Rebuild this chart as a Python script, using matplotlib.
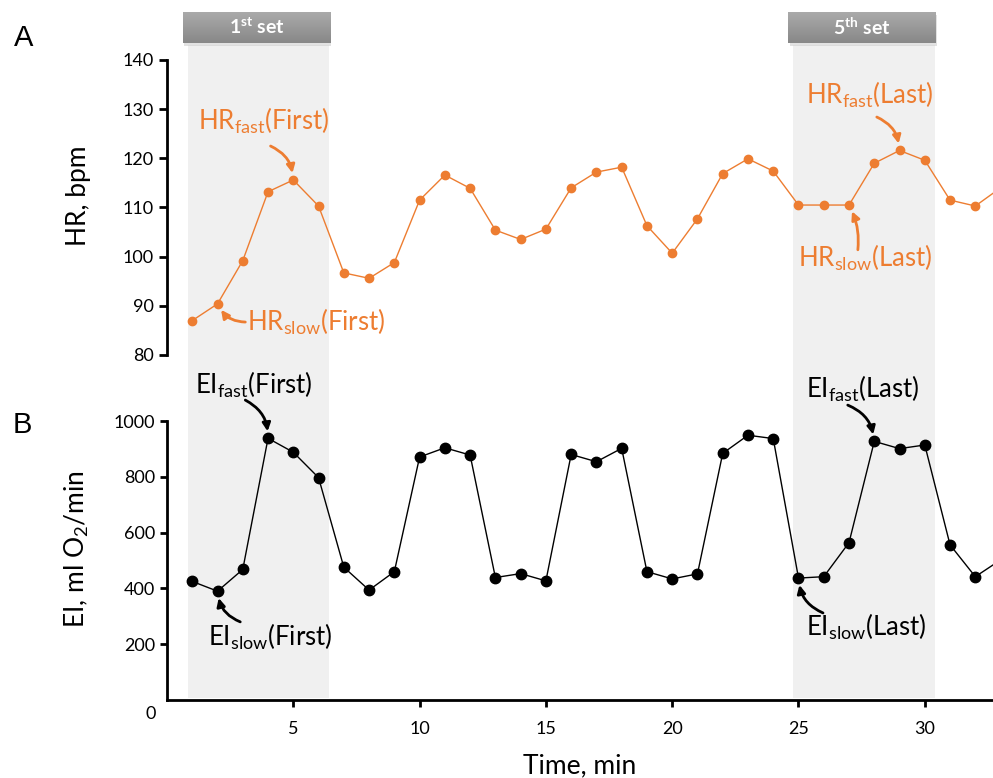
import numpy as np
import matplotlib
matplotlib.use("Agg")
import matplotlib.pyplot as plt
from matplotlib.patches import Rectangle

plt.rcParams['font.family'] = ['Lato', 'DejaVu Sans']
plt.rcParams['mathtext.fontset'] = 'custom'
plt.rcParams['mathtext.rm'] = 'Lato'
plt.rcParams['mathtext.it'] = 'Lato'
plt.rcParams['mathtext.bf'] = 'Lato:bold'

# data
minutes = np.arange(1, 34)
hr = [87.0, 90.4, 99.2, 113.2, 115.6, 110.3, 96.7, 95.6, 98.8, 111.5,
      116.6, 113.9, 105.4, 103.5, 105.6, 114.0, 117.2, 118.2, 106.3, 100.7,
      107.7, 116.9, 119.9, 117.4, 110.5, 110.5, 110.5, 119.0, 121.6, 119.6,
      111.5, 110.3, 114.0]
ei = [425, 390, 468, 938, 888, 797, 476, 394, 460, 871,
      904, 878, 439, 453, 427, 880, 854, 902, 460, 434,
      452, 884, 949, 937, 437, 442, 564, 927, 901, 914,
      556, 442, 502]

sets = [(0.83, 6.41, "1$^{\\mathbf{st}}$ set"), (24.8, 30.4, "5$^{\\mathbf{th}}$ set")]

orange = "#ED7D31"
xmax = 32.7
left, width = 167 / 993, 826 / 993

fig = plt.figure(figsize=(9.93, 7.78), dpi=100)

# background layer in pixel rows for the shaded sets and their header boxes
bg = fig.add_axes([left, 0, width, 1], zorder=0)
bg.set_xlim(0, xmax)
bg.set_ylim(778, 0)
bg.axis("off")
grad = np.linspace(0, 1, 50).reshape(-1, 1)
gcmap = matplotlib.colors.LinearSegmentedColormap.from_list("g", ["#aaaaaa", "#888888"])
for x0, x1, lab in sets:
    bg.add_patch(Rectangle((x0, 45), x1 - x0, 653, color="#f0f0f0", lw=0))
    bx0, bx1 = x0 - 0.2, x1 + 0.05
    bg.add_patch(Rectangle((bx0 + 0.05, 15), bx1 - bx0, 31, color="#d0d0d0", lw=0, alpha=0.6))
    bg.imshow(grad, cmap=gcmap, extent=[bx0, bx1, 43, 12], aspect="auto", zorder=2)
    bg.text((bx0 + bx1) / 2, 27, lab, color="white", fontsize=14, fontweight="bold",
            ha="center", va="center", zorder=3)

# panel A
ax1 = fig.add_axes([left, 423 / 778, width, 295 / 778], zorder=2)
ax1.patch.set_visible(False)
ax1.plot(minutes, hr, color=orange, lw=1, marker="o", ms=6, clip_on=False)
ax1.set_xlim(0, xmax)
ax1.set_ylim(80, 140)
ax1.set_yticks(range(80, 141, 10))
ax1.set_xticks([])
for s in ["top", "right", "bottom"]:
    ax1.spines[s].set_visible(False)
ax1.spines["left"].set_linewidth(2)
ax1.tick_params(axis="y", width=2, length=6, labelsize=13)
ax1.set_ylabel("HR, bpm", fontsize=19)
ax1.yaxis.set_label_coords(-0.092, 0.54)

# panel B
ax2 = fig.add_axes([left, 78 / 778, width, 279 / 778], zorder=2)
ax2.patch.set_visible(False)
ax2.plot(minutes, ei, color="black", lw=1, marker="o", ms=7.5, clip_on=False)
ax2.set_xlim(0, xmax)
ax2.set_ylim(0, 1000)
ax2.set_yticks(range(200, 1001, 200))
ax2.set_xticks(range(5, 31, 5))
for s in ["top", "right"]:
    ax2.spines[s].set_visible(False)
ax2.spines["left"].set_linewidth(2)
ax2.spines["bottom"].set_linewidth(2)
ax2.tick_params(width=2, length=5, labelsize=13)
ax2.tick_params(axis="x", pad=10)
ax2.annotate("0", xy=(0, 0), xytext=(-12, -4), textcoords="offset points",
             fontsize=13, ha="center", va="top")
ax2.set_ylabel("EI, ml O$_2$/min", fontsize=19)
ax2.yaxis.set_label_coords(-0.092, 0.54)
ax2.set_xlabel("Time, min", fontsize=19, labelpad=12)

fig.text(24 / 993, 1 - 38 / 778, "A", fontsize=21, family="Liberation Sans", ha="center", va="center")
fig.text(22 / 993, 1 - 425 / 778, "B", fontsize=21, family="Liberation Sans", ha="center", va="center")

def note(ax, text, txy, start, idx, vals, color, rad):
    ax.text(txy[0], txy[1], text, color=color, fontsize=18.5, ha="center", va="center")
    ax.annotate("", xy=(minutes[idx], vals[idx]), xytext=start,
                arrowprops=dict(arrowstyle="-|>", color=color, lw=2, shrinkA=0, shrinkB=5,
                                mutation_scale=12, connectionstyle="arc3,rad=%s" % rad),
                annotation_clip=False)

note(ax1, "HR$_{\\mathrm{fast}}$(First)", (3.81, 127.6), (4.1, 122.5), 4, hr, orange, -0.3)
note(ax1, "HR$_{\\mathrm{slow}}$(First)", (5.92, 86.7), (3.1, 86.7), 1, hr, orange, -0.3)
note(ax1, "HR$_{\\mathrm{fast}}$(Last)", (27.83, 132.9), (28.1, 128.4), 28, hr, orange, -0.3)
note(ax1, "HR$_{\\mathrm{slow}}$(Last)", (27.63, 99.7), (27.35, 101.4), 26, hr, orange, 0.15)
note(ax2, "EI$_{\\mathrm{fast}}$(First)", (3.42, 1129), (3.1, 1075), 3, ei, "black", -0.3)
note(ax2, "EI$_{\\mathrm{slow}}$(First)", (4.09, 226), (2.9, 280), 1, ei, "black", -0.3)
note(ax2, "EI$_{\\mathrm{fast}}$(Last)", (27.55, 1115), (26.95, 1057), 27, ei, "black", -0.3)
note(ax2, "EI$_{\\mathrm{slow}}$(Last)", (27.67, 262), (25.97, 312), 24, ei, "black", -0.3)

fig.savefig("out.png", dpi=100)
